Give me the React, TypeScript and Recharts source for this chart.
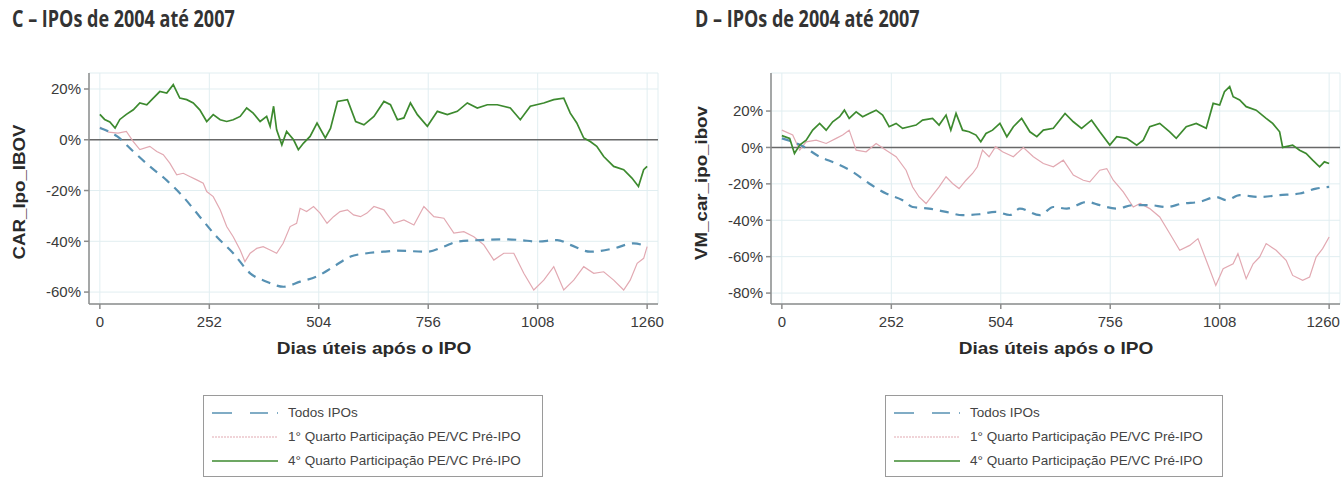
// Two panels (C, D): cumulative abnormal returns after IPO, 2004–2007.
import { CartesianGrid, Legend, Line, LineChart, ReferenceLine, XAxis, YAxis } from "recharts";

const xTicks = [0, 252, 504, 756, 1008, 1260];
const cTicks = [-60, -40, -20, 0, 20];
const dTicks = [-80, -60, -40, -20, 0, 20];

const names = ["Todos IPOs", "1° Quarto Participação PE/VC Pré-IPO", "4° Quarto Participação PE/VC Pré-IPO"];

// [dia útil, %]
const cBlue: [number, number][] = [
  [0, 4.6], [40, 1.3], [77, -4.6], [115, -10.5], [154, -16], [192, -22.5], [230, -30.3], [269, -38.2],
  [307, -44.7], [346, -52.6], [384, -55.9], [423, -57.9], [461, -55.9], [499, -53.9], [538, -50],
  [576, -46.1], [615, -44.7], [653, -44.1], [685, -43.7], [754, -44.1], [792, -42.1], [823, -40.1],
  [876, -39.5], [930, -39.2], [968, -39.5], [1006, -40.1], [1053, -39.5], [1083, -41.4], [1129, -44.1],
  [1183, -42.8], [1229, -40.8], [1260, -42.1],
];
const cPink: [number, number][] = [
  [0, 5], [20, 3], [42, 2.6], [61, 3.3], [77, -0.7], [92, -3.9], [115, -2.6], [131, -4.6], [146, -5.9],
  [161, -9.2], [177, -13.8], [192, -13.2], [207, -14.5], [223, -15.8], [238, -17.1], [246, -20.4],
  [261, -22.4], [277, -27.6], [292, -34.2], [307, -38.2], [323, -43.4], [334, -48], [346, -44.7],
  [361, -42.8], [376, -42.1], [392, -43.4], [407, -44.7], [422, -40.8], [438, -34.2], [453, -32.9],
  [461, -27], [476, -28.3], [492, -26.3], [507, -28.9], [523, -32.9], [538, -30.3], [553, -28.3],
  [570, -27.6], [584, -29.6], [600, -30.3], [615, -28.9], [631, -26.3], [654, -27.6], [677, -32.9],
  [700, -31.6], [723, -33.6], [746, -26.3], [769, -30.3], [792, -30.9], [815, -36.8], [838, -36.2],
  [861, -38.2], [884, -41.4], [907, -47.4], [930, -44.7], [953, -44.7], [976, -52.6], [999, -59.2],
  [1022, -55.3], [1045, -50], [1068, -59.2], [1091, -55.3], [1114, -50], [1137, -52.6], [1160, -52],
  [1183, -55.3], [1206, -59.2], [1221, -55.3], [1237, -48.7], [1252, -46.7], [1260, -42.1],
];
const cGreen: [number, number][] = [
  [0, 10], [11, 8], [23, 7], [35, 4.6], [46, 8], [61, 10], [77, 11.8], [92, 14.5], [108, 13.8],
  [123, 16.4], [138, 19], [154, 18.4], [169, 21.7], [184, 16.4], [200, 15.8], [215, 14.5], [230, 11.8],
  [246, 7.2], [261, 9.9], [277, 7.9], [292, 7.2], [307, 7.9], [323, 9.2], [338, 12.5], [353, 10.5],
  [369, 7.2], [384, 9.2], [392, 5.3], [400, 13.2], [407, 3.9], [419, -2], [430, 3.3], [446, 0],
  [457, -3.9], [469, -1.3], [484, 1.3], [500, 6.6], [519, 0.7], [531, 4.5], [547, 15.1], [570, 15.8],
  [589, 7.2], [608, 5.9], [631, 9.2], [654, 15.1], [669, 13.8], [685, 7.9], [700, 8.6], [715, 14.5],
  [731, 9.9], [754, 5.3], [777, 11.2], [800, 9.9], [823, 11.2], [846, 14.5], [869, 12.5], [892, 13.8],
  [915, 13.8], [945, 12.5], [968, 7.9], [991, 13.2], [1022, 14.5], [1045, 15.8], [1068, 16.4],
  [1083, 10.5], [1098, 6.6], [1114, 0.7], [1129, -0.7], [1144, -2.6], [1160, -6.6], [1183, -10.5],
  [1206, -11.8], [1225, -15.1], [1240, -18.4], [1252, -11.8], [1260, -10.5],
];

const dBlue: [number, number][] = [
  [0, 5], [48, 0.7], [87, -5.1], [125, -8.8], [163, -13.4], [201, -19.8], [240, -25.3], [278, -29],
  [301, -32.7], [339, -33.6], [378, -35.4], [416, -37.2], [454, -36.7], [492, -35.4], [525, -37.1],
  [548, -33.6], [594, -37.2], [625, -32.7], [656, -33.6], [702, -29.9], [732, -31.7], [771, -33.6],
  [809, -31.7], [847, -31.7], [885, -32.7], [923, -30.8], [962, -29.9], [1000, -27.2], [1023, -29],
  [1054, -26.2], [1100, -27.2], [1146, -26.2], [1192, -25.3], [1230, -22.6], [1260, -21.7],
];
const dPink: [number, number][] = [
  [0, 9.5], [25, 6.8], [41, -1.5], [56, 3.1], [79, 4], [102, 2.2], [125, 5], [140, 6.8], [155, 9.5],
  [171, -1.5], [194, -2.4], [217, 2.2], [240, -1.5], [263, -5.1], [286, -12.5], [301, -21.7],
  [316, -27.2], [332, -30.8], [347, -26.2], [362, -21.7], [378, -16.1], [393, -19.8], [408, -22.6],
  [424, -18], [439, -14.3], [450, -10.6], [462, -1.5], [477, -5.1], [492, 0.4], [508, -2.4],
  [533, -5.1], [556, 0], [579, -5.1], [602, -8.8], [625, -10.6], [648, -7], [671, -15.2], [694, -18],
  [709, -18.9], [732, -12.5], [748, -11.6], [763, -18], [786, -24.4], [809, -32.7], [825, -30.8],
  [847, -33.6], [870, -38.2], [893, -47.3], [916, -56.5], [939, -53.8], [958, -50.1], [977, -62],
  [999, -75.8], [1016, -66.6], [1039, -63.9], [1050, -58.3], [1069, -72.1], [1085, -63.9],
  [1100, -60.2], [1115, -52.8], [1138, -56.5], [1161, -62], [1176, -70.3], [1199, -73], [1215, -71.2],
  [1230, -60.2], [1245, -55.6], [1260, -49.2],
];
const dGreen: [number, number][] = [
  [0, 6.5], [18, 5], [29, -3.3], [41, 1.3], [56, 4], [71, 9.5], [87, 13.2], [102, 9.5], [117, 14.1],
  [133, 16.9], [144, 20.5], [155, 16], [171, 19.6], [186, 16.9], [201, 18.7], [217, 20.5], [232, 17.8],
  [247, 11.4], [263, 13.2], [278, 10.5], [293, 11.4], [309, 12.3], [324, 15], [347, 16], [362, 12.3],
  [378, 17.8], [389, 9.5], [401, 18.7], [416, 9.5], [431, 8.6], [447, 6.8], [458, 3.1], [470, 7.7],
  [485, 9.5], [502, 13.2], [518, 5.9], [533, 11.4], [552, 16], [571, 8.6], [587, 5.9], [602, 9.5],
  [625, 10.5], [652, 18.7], [671, 14.1], [690, 10.5], [713, 15], [732, 8.6], [755, 1.3], [771, 5.9],
  [794, 5], [817, 1.3], [832, 4], [847, 11.4], [870, 13.2], [893, 8.6], [908, 5], [931, 11.4],
  [954, 13.2], [977, 10.5], [993, 24.2], [1008, 23.3], [1019, 30.6], [1031, 33.4], [1039, 27.9],
  [1054, 26.1], [1069, 22.4], [1092, 20.5], [1115, 16], [1130, 13.2], [1146, 8.6], [1153, 0],
  [1176, 1.3], [1192, -1.5], [1207, -3.3], [1222, -7], [1238, -10.6], [1249, -7.9], [1260, -8.8],
];

const BLUE = "#5791b3";
const PINK = "#e2a9b2";
const GREEN = "#3d8a2f";
const AXIS = "#8c8c8c";
const FONT = "'Liberation Sans', Arial, sans-serif";

const toRows = (s: [number, number][]) => s.map(([d, v]) => ({ d, v }));

function LegendBox({ sampleLeft, textLeft }: { sampleLeft: number; textLeft: number }) {
  const rows = [
    { name: names[0], color: BLUE, dash: "20 18 18 9 1 100", w: 1.6 },
    { name: names[1], color: PINK, dash: "2 1", w: 1.2 },
    { name: names[2], color: GREEN, dash: undefined, w: 1.3 },
  ];
  return (
    <div style={{ width: "100%", height: "100%", boxSizing: "border-box", border: "1px solid #9a9a9a",
      background: "#fff", position: "relative", fontFamily: FONT, fontSize: 13.5, color: "#444" }}>
      {rows.map((r, i) => (
        <div key={i} style={{ position: "absolute", top: 8 + i * 24, left: 0, height: 18, width: "100%" }}>
          <svg width={68} height={18} style={{ position: "absolute", left: sampleLeft, top: 0 }}>
            <line x1={0} y1={9} x2={66} y2={9} stroke={r.color} strokeWidth={r.w} strokeDasharray={r.dash} />
          </svg>
          <span style={{ position: "absolute", left: textLeft, top: 1, whiteSpace: "nowrap" }}>{r.name}</span>
        </div>
      ))}
    </div>
  );
}

function XTick(props: any) {
  const { x, y, payload, lastShift } = props;
  const dx = payload.value === 1260 ? lastShift : 0;
  return (
    <text x={x + dx} y={y} dy={12} textAnchor="middle" fontSize={15} fill="#3a3a3a" fontFamily={FONT}>
      {payload.value}
    </text>
  );
}

function Panel(props: {
  left: number; title: string; yLabel: string; marginLeft: number; marginRight: number;
  domain: [number, number]; ticks: number[];
  blue: [number, number][]; pink: [number, number][]; green: [number, number][];
  legendLeft: number; legendWidth: number; lastShift: number;
}) {
  const plotLeft = props.marginLeft + 60;
  const plotRight = 672 - props.marginRight;
  const tick = { fontSize: 15, fill: "#3a3a3a", fontFamily: FONT };
  return (
    <div style={{ position: "absolute", left: props.left, top: 0, width: 672, height: 480 }}>
      <div style={{ position: "absolute", left: props.left === 0 ? 12 : 23, top: 3, whiteSpace: "nowrap",
        fontFamily: "'Open Sans', sans-serif", fontWeight: 700, fontSize: 22.5, color: "#333",
        transform: "scaleX(0.8)", transformOrigin: "left top" }}>
        {props.title}
      </div>
      <LineChart width={672} height={480} margin={{ top: 73, right: props.marginRight, left: props.marginLeft, bottom: 146 }}>
        <CartesianGrid stroke="#e1eef1" strokeWidth={1} />
        <XAxis type="number" dataKey="d" domain={[-25, 1285]} ticks={xTicks} allowDataOverflow
          height={30} tickSize={5} tickMargin={6} stroke={AXIS} strokeWidth={1.5} interval={0}
          tick={<XTick lastShift={props.lastShift} />} />
        <YAxis type="number" domain={props.domain} ticks={props.ticks} allowDataOverflow width={60}
          tickSize={5} tickMargin={3} stroke={AXIS} strokeWidth={1.5} tick={tick} interval={0}
          tickFormatter={(v: number) => `${v}%`} />
        <ReferenceLine y={0} stroke="#686868" strokeWidth={1.5} />
        <Line data={toRows(props.pink)} dataKey="v" name={names[1]} stroke={PINK} strokeWidth={1.2}
          dot={false} isAnimationActive={false} type="linear" />
        <Line data={toRows(props.blue)} dataKey="v" name={names[0]} stroke={BLUE} strokeWidth={2.2}
          strokeDasharray="9 7" dot={false} isAnimationActive={false} type="monotone" />
        <Line data={toRows(props.green)} dataKey="v" name={names[2]} stroke={GREEN} strokeWidth={1.7}
          dot={false} isAnimationActive={false} type="linear" />
        <Legend layout="vertical" align="center" verticalAlign="middle"
          wrapperStyle={{ left: props.legendLeft, top: 395, width: props.legendWidth, height: 82, bottom: "auto", right: "auto" }}
          content={() => <LegendBox sampleLeft={8} textLeft={84} />} />
      </LineChart>
      <div style={{ position: "absolute", left: (plotLeft + plotRight) / 2, top: 339, transform: "translateX(-50%) scaleX(1.12)",
        whiteSpace: "nowrap", fontFamily: FONT, fontWeight: 700, fontSize: 17, color: "#2a2a2a" }}>
        Dias úteis após o IPO
      </div>
      <div style={{ position: "absolute", left: props.left === 0 ? 20 : 30, top: props.left === 0 ? 192 : 183,
        transform: "translate(-50%, -50%) rotate(-90deg) scaleX(1.1)", whiteSpace: "nowrap",
        fontFamily: FONT, fontWeight: 700, fontSize: 17, color: "#2a2a2a" }}>
        {props.yLabel}
      </div>
    </div>
  );
}

export default function App() {
  return (
    <div style={{ position: "absolute", left: 0, top: 0, width: 1344, height: 480, background: "#fff", overflow: "hidden" }}>
      <Panel left={0} title="C – IPOs de 2004 até 2007" yLabel="CAR_Ipo_IBOV" marginLeft={29} marginRight={14}
        domain={[-64.7, 26.3]} ticks={cTicks} blue={cBlue} pink={cPink} green={cGreen}
        legendLeft={203} legendWidth={340} lastShift={0} />
      <Panel left={672} title="D – IPOs de 2004 até 2007" yLabel="VM_car_ipo_ibov" marginLeft={39} marginRight={4}
        domain={[-86, 40.9]} ticks={dTicks} blue={dBlue} pink={dPink} green={dGreen}
        legendLeft={213} legendWidth={338} lastShift={-6} />
    </div>
  );
}
